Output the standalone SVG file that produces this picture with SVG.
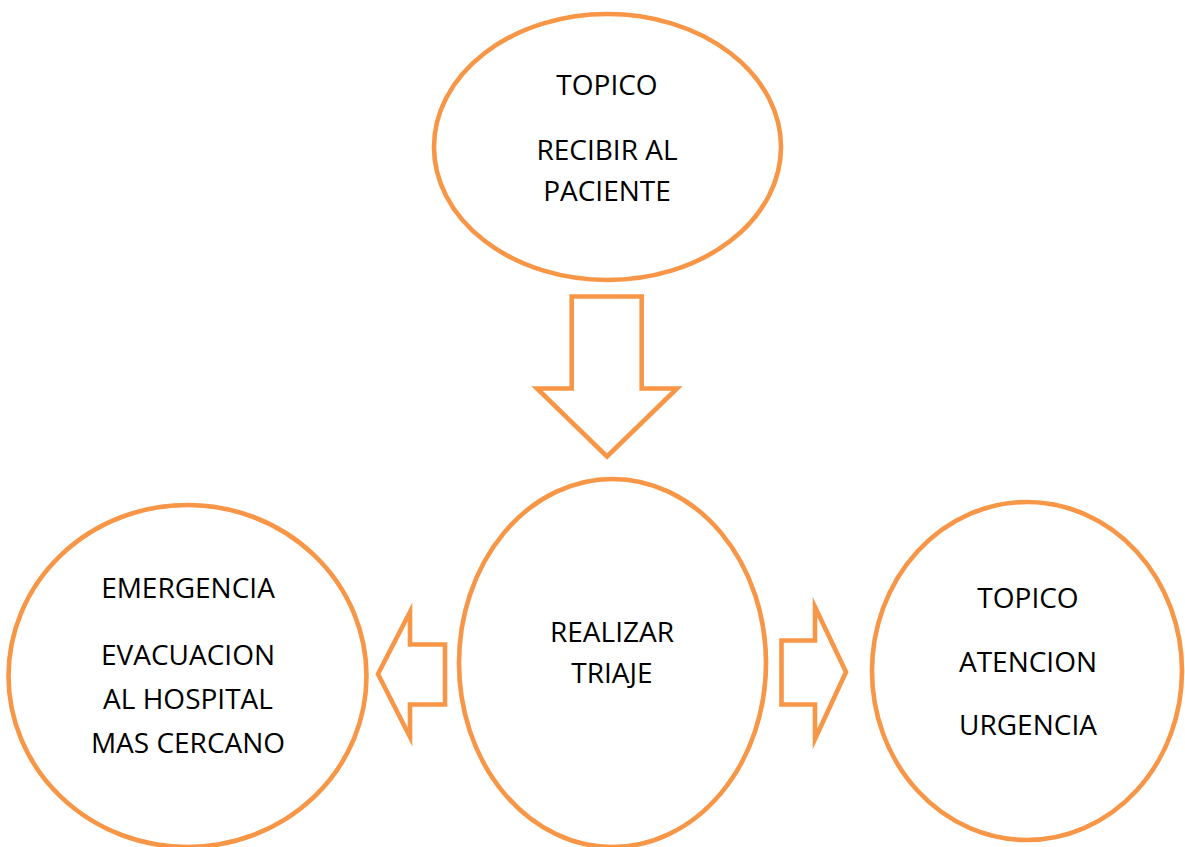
<svg xmlns="http://www.w3.org/2000/svg" width="1185" height="847" viewBox="0 0 1185 847">
<style>
.shape{fill:#FFFFFF;stroke:#F79646;stroke-width:4.6;stroke-miterlimit:10}
.lbl{font-family:"Open Sans","Liberation Sans",sans-serif;font-size:28px;fill:#000000;text-anchor:middle}
</style>
<rect x="0" y="0" width="1185" height="847" fill="#FFFFFF"/>
<g id="connectors">
<polygon id="arrow-down" class="shape" points="571.7,296.5 641.7,296.5 641.7,388.5 677,388.5 607,456.5 537,388.5 571.7,388.5"/>
<polygon id="arrow-left" class="shape" points="445,644.5 410,644.5 410,612 378,674 410,737 410,704.5 445,704.5"/>
<polygon id="arrow-right" class="shape" points="781.5,640.5 815,640.5 815,607 846,672 815,739 815,704.5 781.5,704.5"/>
</g>
<g id="node-recibir">
<ellipse class="shape" cx="607.5" cy="147" rx="173.5" ry="133"/>
<text class="lbl" x="607" y="95">TOPICO</text>
<text class="lbl" x="607" y="160">RECIBIR AL</text>
<text class="lbl" x="607" y="201">PACIENTE</text>
</g>
<g id="node-triaje">
<ellipse class="shape" cx="612.5" cy="663" rx="153.5" ry="184"/>
<text class="lbl" x="612" y="642">REALIZAR</text>
<text class="lbl" x="612" y="683">TRIAJE</text>
</g>
<g id="node-emergencia">
<ellipse class="shape" cx="187.5" cy="676" rx="179" ry="171"/>
<text class="lbl" x="188" y="598">EMERGENCIA</text>
<text class="lbl" x="188" y="665">EVACUACION</text>
<text class="lbl" x="188" y="709">AL HOSPITAL</text>
<text class="lbl" x="188" y="753">MAS CERCANO</text>
</g>
<g id="node-topico-atencion">
<ellipse class="shape" cx="1027" cy="671" rx="155" ry="169"/>
<text class="lbl" x="1028" y="608">TOPICO</text>
<text class="lbl" x="1028" y="672">ATENCION</text>
<text class="lbl" x="1028" y="735">URGENCIA</text>
</g>
</svg>
